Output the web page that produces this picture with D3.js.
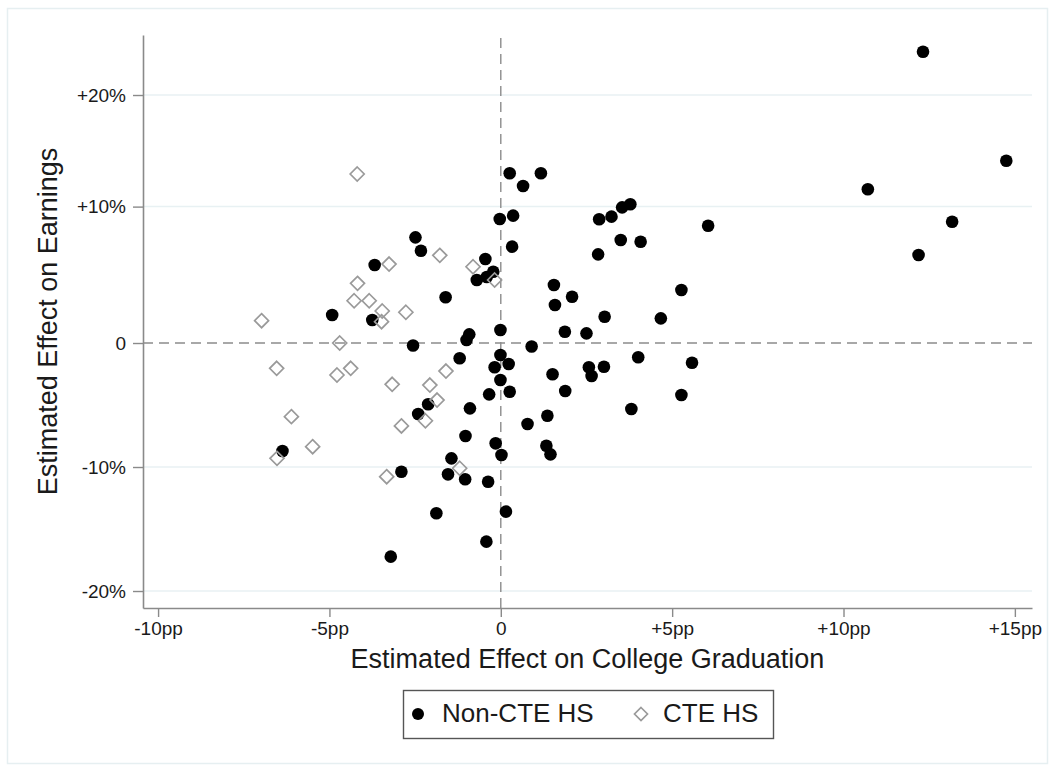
<!DOCTYPE html>
<html>
<head>
<meta charset="utf-8">
<script src="https://cdn.jsdelivr.net/npm/d3@7"></script>
<style>
  body { margin: 0; background: #fff; }
  svg { display: block; font-family: "Liberation Sans", Arial, sans-serif; }
</style>
</head>
<body>
<div id="chart"></div>
<script>
// Data: x = effect on college graduation (pp), y = effect on earnings (%)
const nonCteX = [-2.49, -2.33, -3.68, -1.61, -4.92, -3.75, -2.56, -0.92, -1.00, -0.45,
  -0.22, -0.70, -0.41, 0.26, 1.17, 0.65, -0.03, 0.36, 0.33, 2.87,
  3.23, 3.54, 3.78, 6.05, 3.50, 4.08, 2.84, 1.55, 2.08, 1.58,
  5.27, 3.03, 4.67, -0.01, 1.87, 2.50, 0.90, -1.20, -2.12, -2.41,
  -0.90, -6.37, -1.03, -1.44, -1.54, -1.04, -2.90, -1.88, -3.21, -0.01,
  -0.18, 0.23, -0.01, -0.34, 0.26, 1.51, 2.57, 2.65, 3.01, 4.01,
  5.58, 1.88, 5.27, 3.81, 1.36, 0.78, -0.15, 0.02, 1.33, 1.45,
  -0.37, 0.15, -0.42, 12.32, 14.75, 10.71, 13.17, 12.19];
const nonCteY = [8.52, 7.44, 6.29, 3.69, 2.26, 1.85, -0.20, 0.70, 0.24, 6.77,
  5.75, 5.08, 5.32, 13.69, 13.69, 12.66, 10.00, 10.27, 7.77, 9.98,
  10.19, 10.94, 11.19, 9.46, 8.31, 8.17, 7.15, 4.68, 3.73, 3.06,
  4.27, 2.12, 1.99, 1.05, 0.91, 0.78, -0.28, -1.23, -4.94, -5.73,
  -5.27, -8.71, -7.50, -9.30, -10.59, -10.99, -10.38, -13.73, -17.23, -0.97,
  -1.96, -1.69, -2.98, -4.14, -3.93, -2.52, -1.96, -2.66, -1.91, -1.15,
  -1.59, -3.87, -4.19, -5.32, -5.86, -6.53, -8.09, -9.03, -8.28, -8.98,
  -11.19, -13.60, -16.02, 23.49, 14.70, 12.40, 9.78, 7.10];

const cteX = [-4.19, -1.78, -3.26, -4.18, -4.28, -3.84, -3.46, -2.77, -3.48, -6.98,
  -4.70, -0.81, -0.18, -6.54, -4.78, -4.38, -1.60, -3.17, -2.07, -1.86,
  -2.20, -2.90, -6.11, -5.49, -6.53, -1.20, -3.33];
const cteY = [13.63, 7.07, 6.37, 4.81, 3.41, 3.41, 2.58, 2.48, 1.72, 1.80,
  0.00, 6.15, 5.08, -2.04, -2.58, -2.04, -2.26, -3.33, -3.39, -4.60,
  -6.27, -6.69, -5.94, -8.36, -9.30, -10.10, -10.78];

const xTickValues = [-10, -5, 0, 5, 10, 15];
const xTickLabels = ["-10pp", "-5pp", "0", "+5pp", "+10pp", "+15pp"];
const yTickValues = [-20, -10, 0, 11, 20];
const yTickLabels = ["-20%", "-10%", "0", "+10%", "+20%"];
const gridValues = [-20, -10, 11, 20];
const seriesNames = ["Non-CTE HS", "CTE HS"];

const width = 1055, height = 771;
const margin = {top: 35, right: 23, bottom: 163, left: 143};

const svg = d3.select("#chart")
    .append("svg")
    .attr("width", width)
    .attr("height", height);

// faint outer frame of the graph region
svg.append("rect")
    .attr("x", 7.5).attr("y", 8.5)
    .attr("width", 1040).attr("height", 755)
    .attr("fill", "none")
    .attr("stroke", "#e6eff1")
    .attr("stroke-width", 1.5);

let x = d3.scaleLinear()
    .domain([-10.44, 15.5])
    .range([margin.left, width - margin.right]);

let y = d3.scaleLinear()
    .domain([-21.37, 24.84])
    .range([height - margin.bottom, margin.top]);

// gridlines
svg.append("g")
    .selectAll("line")
    .data(gridValues)
    .enter()
    .append("line")
    .attr("x1", x.range()[0])
    .attr("x2", x.range()[1])
    .attr("y1", d => y(d))
    .attr("y2", d => y(d))
    .attr("stroke", "#e8f1f3")
    .attr("stroke-width", 1.5);

// dashed zero lines
svg.append("line")
    .attr("x1", x.range()[0]).attr("x2", x.range()[1])
    .attr("y1", y(0)).attr("y2", y(0))
    .attr("stroke", "#8c8c8c")
    .attr("stroke-width", 1.4)
    .attr("stroke-dasharray", "10,6");
svg.append("line")
    .attr("x1", x(0)).attr("x2", x(0))
    .attr("y1", y.range()[0]).attr("y2", y.range()[1])
    .attr("stroke", "#8c8c8c")
    .attr("stroke-width", 1.4)
    .attr("stroke-dasharray", "10,6");

// axes
let xAxis = svg.append("g")
    .attr("transform", `translate(0, ${y.range()[0]})`)
    .call(d3.axisBottom(x)
        .tickValues(xTickValues)
        .tickFormat((d, i) => xTickLabels[i])
        .tickSize(9)
        .tickPadding(5)
        .tickSizeOuter(0));

let yAxis = svg.append("g")
    .attr("transform", `translate(${x.range()[0]}, 0)`)
    .call(d3.axisLeft(y)
        .tickValues(yTickValues)
        .tickFormat((d, i) => yTickLabels[i])
        .tickSize(10)
        .tickPadding(7)
        .tickSizeOuter(0));

[xAxis, yAxis].forEach(function(g) {
    g.select(".domain").attr("stroke", "#8a8a8a").attr("stroke-width", 1.6);
    g.selectAll(".tick line").attr("stroke", "#8a8a8a").attr("stroke-width", 1.4);
    g.selectAll(".tick text")
        .attr("fill", "#1a1a1a")
        .style("font-size", "19px")
        .style("font-family", "'Liberation Sans', Arial, sans-serif");
});

// axis titles
svg.append("text")
    .attr("x", (x.range()[0] + x.range()[1]) / 2)
    .attr("y", 668)
    .style("text-anchor", "middle")
    .style("font-size", "27px")
    .attr("fill", "#1a1a1a")
    .text("Estimated Effect on College Graduation");

svg.append("text")
    .attr("transform", `translate(57, ${(y.range()[0] + y.range()[1]) / 2}) rotate(-90)`)
    .style("text-anchor", "middle")
    .style("font-size", "27px")
    .attr("fill", "#1a1a1a")
    .text("Estimated Effect on Earnings");

// points
const diamond = function(cx, cy, r) {
    return `M${cx},${cy - r}L${cx + r},${cy}L${cx},${cy + r}L${cx - r},${cy}Z`;
};

svg.append("g")
    .selectAll("circle")
    .data(nonCteX.map((d, i) => [d, nonCteY[i]]))
    .enter()
    .append("circle")
    .attr("cx", d => x(d[0]))
    .attr("cy", d => y(d[1]))
    .attr("r", 6.3)
    .attr("fill", "#000");

svg.append("g")
    .selectAll("path")
    .data(cteX.map((d, i) => [d, cteY[i]]))
    .enter()
    .append("path")
    .attr("d", d => diamond(x(d[0]), y(d[1]), 7))
    .attr("fill", "none")
    .attr("stroke", "#9a9a9a")
    .attr("stroke-width", 1.7);

// legend
let legend = svg.append("g");
legend.append("rect")
    .attr("x", 403.5).attr("y", 690.5)
    .attr("width", 370).attr("height", 48)
    .attr("fill", "#fff")
    .attr("stroke", "#555")
    .attr("stroke-width", 1.4);
legend.append("circle")
    .attr("cx", 418).attr("cy", 714)
    .attr("r", 6)
    .attr("fill", "#000");
legend.append("text")
    .attr("x", 442).attr("y", 722)
    .style("font-size", "26px")
    .attr("fill", "#1a1a1a")
    .text(seriesNames[0]);
legend.append("path")
    .attr("d", diamond(641, 714, 6.5))
    .attr("fill", "none")
    .attr("stroke", "#9a9a9a")
    .attr("stroke-width", 1.7);
legend.append("text")
    .attr("x", 663).attr("y", 722)
    .style("font-size", "26px")
    .attr("fill", "#1a1a1a")
    .text(seriesNames[1]);
</script>
</body>
</html>
